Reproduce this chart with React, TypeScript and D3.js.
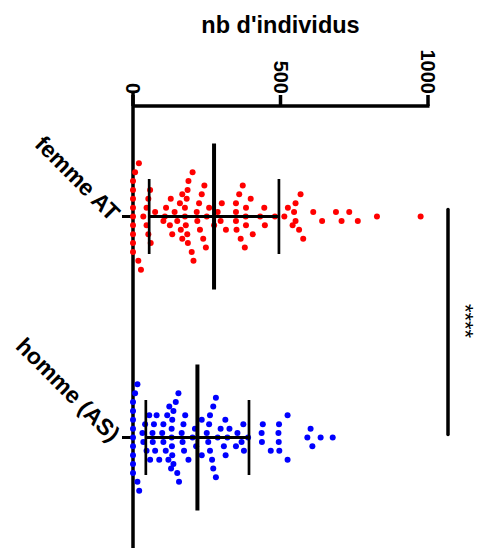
import React from "react";
import * as d3 from "d3";

const categories = ["femme AT", "homme (AS)"];
const seriesColors = ["#ff0000", "#0000ff"];
const xTicks = [0, 500, 1000];
const axisTitle = "nb d'individus";
const significanceLabel = "****";

const femmeAT = [
  0, 0, 0, 0, 0, 0, 0, 0, 0, 7, 18, 20, 27,
  35, 46, 46, 52, 52, 58, 60,
  75, 103,
  108, 112, 125, 128, 133,
  141, 150, 159, 162, 167, 167,
  176, 176, 179, 182, 184, 185, 186, 188, 199, 202, 205,
  216, 218, 224, 227, 233, 238, 242, 247,
  250, 258, 275,
  287, 297, 301, 315,
  349, 349, 349, 351, 360, 365, 372, 379,
  382, 383, 383, 399, 406,
  431, 445, 447,
  481,
  513, 525, 541,
  546, 551, 551, 563, 568, 577,
  611, 641, 688, 707, 733, 762, 827, 975,
];

const hommeAS = [
  0, 0, 0, 0, 0, 0, 0, 0, 0, 7, 15, 15, 21,
  32, 35, 41, 46, 55, 58,
  66, 67, 71, 75, 80, 89,
  99, 103, 103, 111, 116, 120, 123, 129,
  131, 131, 132, 133, 133, 137, 137, 145, 150, 154, 156,
  165, 168, 171, 173, 177, 188,
  202, 210, 214, 233, 233,
  250, 255, 258, 261, 261, 268, 272, 272, 281, 281,
  287, 297, 308, 313, 314, 320, 327,
  349, 354, 368, 374, 376, 390,
  436, 437, 440, 467, 493, 494, 495, 496, 524, 524,
  591, 602, 608, 636, 677,
];

const seriesValues = [femmeAT, hommeAS];

const FONT = "'Liberation Sans', Arial, Helvetica, sans-serif";

function swarmSlots(values: number[], binWidth: number): number[] {
  const order = values.map((_, i) => i).sort((a, b) => values[a] - values[b]);
  const bins: number[][] = [];
  let cur: number[] = [];
  let start = -Infinity;
  for (const i of order) {
    if (values[i] - start >= binWidth) {
      if (cur.length) bins.push(cur);
      cur = [i];
      start = values[i];
    } else cur.push(i);
  }
  if (cur.length) bins.push(cur);
  const slots = new Array(values.length).fill(0);
  for (const b of bins) {
    const n = b.length;
    b.forEach((i, k) => {
      if (n % 2 === 1) {
        if (k === 0) slots[i] = 0;
        else {
          const m = Math.ceil(k / 2) * 2;
          slots[i] = k % 2 === 1 ? -m : m;
        }
      } else {
        const m = Math.floor(k / 2) * 2 + 1;
        slots[i] = k % 2 === 0 ? -m : m;
      }
    });
  }
  return slots;
}

export default function App() {
  const W = 484;
  const H = 557;
  const x = d3.scaleLinear().domain([0, 1000]).range([133, 428]);
  const y = d3.scalePoint<string>().domain(categories).range([106, 548]).padding(0.5);
  const axisY = 106;
  const x0 = x(0);
  const halfStep = 4.43;
  const r = 3;

  return (
    <svg width={W} height={H} style={{ position: "absolute", left: 0, top: 0, background: "#fff" }}>
      <text x={(x(0) + x(1000)) / 2} y={33} textAnchor="middle" fontFamily={FONT} fontWeight="bold" fontSize={23.5} fill="#000">
        {axisTitle}
      </text>

      {/* value axis */}
      <line x1={x0} x2={x(1000) + 1.5} y1={axisY} y2={axisY} stroke="#000" strokeWidth={3.5} />
      {xTicks.map((t) => (
        <g key={t}>
          <line x1={x(t)} x2={x(t)} y1={axisY} y2={axisY - 11} stroke="#000" strokeWidth={3.5} />
          <text
            transform={`translate(${x(t)},${axisY - 12}) rotate(90)`}
            textAnchor="end"
            dy="0.35em"
            fontFamily={FONT}
            fontWeight="bold"
            fontSize={20}
            fill="#000"
          >
            {t}
          </text>
        </g>
      ))}

      {/* category axis */}
      <line x1={x0} x2={x0} y1={axisY - 13} y2={548} stroke="#000" strokeWidth={3.5} />
      {categories.map((c) => {
        const yc = y(c)!;
        return (
          <g key={c}>
            <line x1={x0 - 11} x2={x0} y1={yc} y2={yc} stroke="#000" strokeWidth={3} />
            <text
              transform={`translate(${x0 - 17},${yc}) rotate(45)`}
              textAnchor="end"
              dy="0.35em"
              fontFamily={FONT}
              fontWeight="bold"
              fontSize={23}
              fill="#000"
            >
              {c}
            </text>
          </g>
        );
      })}

      {/* dots + mean/SD */}
      {categories.map((c, si) => {
        const vals = seriesValues[si];
        const yc = y(c)!;
        const slots = swarmSlots(vals, 32);
        const mean = d3.mean(vals)!;
        const sd = d3.deviation(vals)!;
        return (
          <g key={c}>
            {vals.map((v, i) => (
              <circle key={i} cx={x(v)} cy={yc + slots[i] * halfStep} r={r} fill={seriesColors[si]} />
            ))}
            <line x1={x(mean - sd)} x2={x(mean + sd)} y1={yc} y2={yc} stroke="#000" strokeWidth={3} />
            <line x1={x(mean)} x2={x(mean)} y1={yc - 73} y2={yc + 73} stroke="#000" strokeWidth={4} />
            <line x1={x(mean - sd)} x2={x(mean - sd)} y1={yc - 37.5} y2={yc + 37.5} stroke="#000" strokeWidth={2.7} />
            <line x1={x(mean + sd)} x2={x(mean + sd)} y1={yc - 37.5} y2={yc + 37.5} stroke="#000" strokeWidth={2.7} />
          </g>
        );
      })}

      {/* significance */}
      <line x1={448} x2={448} y1={y(categories[0])! - 7} y2={y(categories[1])! - 3} stroke="#000" strokeWidth={3.5} strokeLinecap="round" />
      <text
        transform={`translate(458,${(y(categories[0])! + y(categories[1])!) / 2 - 6}) rotate(90)`}
        textAnchor="middle"
        fontFamily={FONT}
        fontSize={22}
        fill="#000"
      >
        {significanceLabel}
      </text>
    </svg>
  );
}
